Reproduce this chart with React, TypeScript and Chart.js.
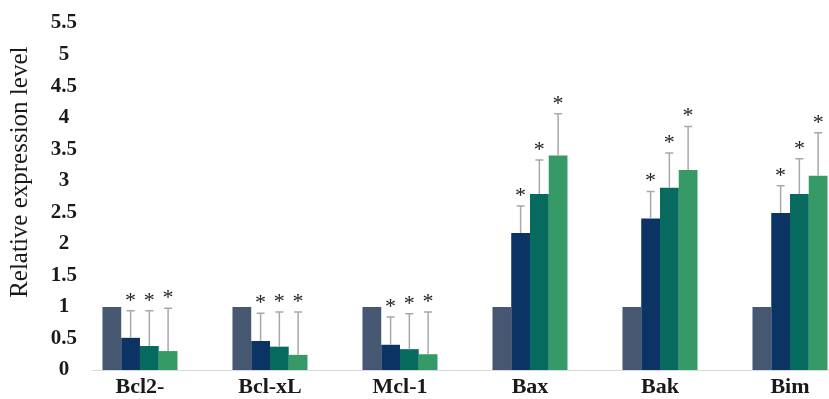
import { useEffect, useRef } from "react";
import { Chart, registerables } from "chart.js";

Chart.register(...registerables);

const categories = ["Bcl2-", "Bcl-xL", "Mcl-1", "Bax", "Bak", "Bim"];
const yTicks = [0, 0.5, 1, 1.5, 2, 2.5, 3, 3.5, 4, 4.5, 5, 5.5];
const yTitle = "Relative expression level";

const seriesNames = ["Control", "Group 1", "Group 2", "Group 3"];
const control = [1, 1, 1, 1, 1, 1];
const group1 = [0.51, 0.46, 0.4, 2.17, 2.4, 2.49];
const group2 = [0.38, 0.37, 0.33, 2.79, 2.89, 2.79];
const group3 = [0.3, 0.24, 0.25, 3.4, 3.17, 3.08];

const group1Err = [0.43, 0.44, 0.44, 0.43, 0.43, 0.43];
const group2Err = [0.56, 0.55, 0.56, 0.54, 0.55, 0.56];
const group3Err = [0.68, 0.68, 0.67, 0.66, 0.69, 0.68];

const group1Sig = [true, true, true, true, true, true];
const group2Sig = [true, true, true, true, true, true];
const group3Sig = [true, true, true, true, true, true];

const colors = ["#465771", "#0b3364", "#066a5f", "#359a66"];
const FONT = "'Liberation Serif', 'Times New Roman', serif";

const allValues = [control, group1, group2, group3];
const allErrors = [null, group1Err, group2Err, group3Err];
const allSig = [null, group1Sig, group2Sig, group3Sig];

const errorPlugin = {
  id: "errorBarsAndStars",
  afterDatasetsDraw(chart: any) {
    const ctx = chart.ctx;
    const yScale = chart.scales.y;
    chart.data.datasets.forEach((_ds: any, di: number) => {
      const errs = allErrors[di];
      if (!errs) return;
      const vals = allValues[di];
      const sig = allSig[di];
      const meta = chart.getDatasetMeta(di);
      meta.data.forEach((bar: any, j: number) => {
        const x = bar.x;
        const top = yScale.getPixelForValue(vals[j] + errs[j]);
        ctx.save();
        ctx.strokeStyle = "#a8a8a8";
        ctx.lineWidth = 1.5;
        ctx.beginPath();
        ctx.moveTo(x, bar.y);
        ctx.lineTo(x, top);
        ctx.moveTo(x - 4, top);
        ctx.lineTo(x + 4, top);
        ctx.stroke();
        if (sig && sig[j]) {
          ctx.fillStyle = "#222";
          ctx.font = `22px ${FONT}`;
          ctx.textAlign = "center";
          ctx.textBaseline = "alphabetic";
          ctx.fillText("*", x, top - 4);
        }
        ctx.restore();
      });
    });
  },
};

const titlePlugin = {
  id: "yTitleText",
  afterDraw(chart: any) {
    const ctx = chart.ctx;
    const area = chart.chartArea;
    const yScale = chart.scales.y;
    ctx.save();
    ctx.translate(yScale.left + 15, area.top + (area.bottom - area.top) * 0.43);
    ctx.rotate(-Math.PI / 2);
    ctx.fillStyle = "#1a1a1a";
    ctx.font = `25px ${FONT}`;
    ctx.textAlign = "center";
    ctx.textBaseline = "middle";
    ctx.fillText(yTitle, 0, 0);
    ctx.restore();
  },
};

export default function App() {
  const ref = useRef<HTMLCanvasElement | null>(null);

  useEffect(() => {
    if (!ref.current) return;
    const chart = new Chart(ref.current, {
      type: "bar",
      data: {
        datasets: allValues.map((vals, di) => ({
          label: seriesNames[di],
          data: vals.map((v, i) => ({ x: i, y: v })),
          backgroundColor: colors[di],
          borderWidth: 0,
        })),
      },
      options: {
        animation: false,
        responsive: true,
        maintainAspectRatio: false,
        devicePixelRatio: 1,
        layout: { padding: { left: 5, top: 23, right: 0, bottom: 0 } },
        datasets: {
          bar: { categoryPercentage: 0.577, barPercentage: 1.0 },
        },
        plugins: {
          legend: { display: false },
          tooltip: { enabled: false },
        },
        scales: {
          x: {
            type: "linear",
            min: -0.369,
            max: 5.3,
            offset: false,
            grid: { display: false, drawTicks: false },
            border: { display: true, color: "#d9d9d9", width: 1 },
            afterBuildTicks: (axis: any) => {
              axis.ticks = categories.map((_, i) => ({ value: i }));
            },
            afterFit: (axis: any) => {
              axis.height = 29;
              axis.paddingLeft = 0;
              axis.paddingRight = 0;
            },
            ticks: {
              autoSkip: false,
              maxRotation: 0,
              padding: 4,
              color: "#1a1a1a",
              font: { family: FONT, size: 22, weight: "bold" },
              callback: (v: any) => categories[Math.round(Number(v))] ?? "",
            },
          },
          y: {
            min: 0,
            max: 5.5,
            grid: { display: false, drawTicks: false },
            border: { display: false },
            afterBuildTicks: (axis: any) => {
              axis.ticks = yTicks.map((v) => ({ value: v }));
            },
            afterFit: (axis: any) => {
              axis.width = 87;
              axis.paddingTop = 0;
              axis.paddingBottom = 0;
            },
            ticks: {
              padding: 15,
              crossAlign: "center",
              color: "#1a1a1a",
              font: { family: FONT, size: 21, weight: "bold" },
              callback: (v: any) => String(v),
            },
            title: { display: false },
          },
        },
      },
      plugins: [errorPlugin, titlePlugin],
    } as any);
    return () => chart.destroy();
  }, []);

  return (
    <div style={{ position: "absolute", left: 0, top: 0, width: 829, height: 399, background: "#fff" }}>
      <canvas ref={ref} />
    </div>
  );
}
